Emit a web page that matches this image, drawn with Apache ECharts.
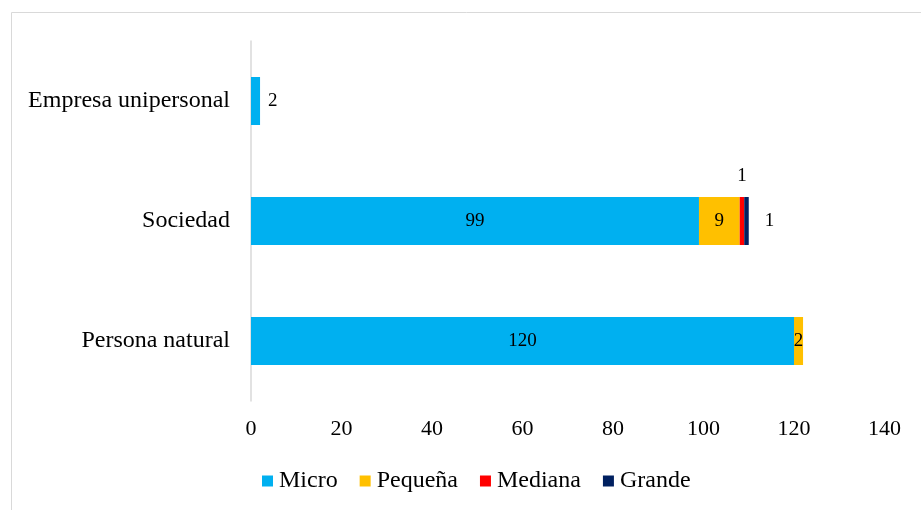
<!DOCTYPE html>
<html>
<head>
<meta charset="utf-8">
<script src="https://cdn.jsdelivr.net/npm/echarts@6/dist/echarts.min.js"></script>
<style>
  html, body { margin: 0; padding: 0; background: #fff; }
  #chart { width: 921px; height: 510px; }
</style>
</head>
<body>
<div id="chart"></div>
<script>
// Company types, bottom to top
const categories = ['Persona natural', 'Sociedad', 'Empresa unipersonal'];
const seriesNames = ['Micro', 'Pequeña', 'Mediana', 'Grande'];
const micro    = [120, 99, 2];
const pequena  = [2, 9, null];
const mediana  = [null, 1, null];
const grande   = [null, 1, null];
const xTicks   = [0, 20, 40, 60, 80, 100, 120, 140];
const colors   = ['#00B0F0', '#FFC000', '#FF0000', '#002060'];

const FONT = '"Liberation Serif", "Times New Roman", serif';

// Label placement per segment (the tiny segments get outside labels)
const labelPos = {
  Micro:   ['inside', 'inside', 'right'],
  'Pequeña': ['inside', 'inside', 'inside'],
  Mediana: ['top', 'top', 'top'],
  Grande:  ['right', 'right', 'right']
};

function buildData(name, values) {
  return values.map((v, i) => ({
    value: v,
    label: {
      position: labelPos[name][i],
      distance: name === 'Grande' ? 16 : (name === 'Mediana' ? 11 : 8)
    }
  }));
}

const allValues = [micro, pequena, mediana, grande];
const series = seriesNames.map((name, k) => ({
  name: name,
  type: 'bar',
  stack: 'total',
  barWidth: 48,
  itemStyle: { color: colors[k] },
  label: {
    show: true,
    color: '#000',
    fontFamily: FONT,
    fontSize: 19,
    formatter: p => (p.value == null ? '' : String(p.value))
  },
  data: buildData(name, allValues[k])
}));

const chart = echarts.init(document.getElementById('chart'));
chart.setOption({
  animation: false,
  textStyle: { fontFamily: FONT },
  graphic: [{
    type: 'rect',
    shape: { x: 11.5, y: 12.5, width: 1000, height: 1000 },
    style: { fill: 'none', stroke: '#d9d9d9', lineWidth: 1 },
    silent: true
  }],
  grid: { left: 251, right: 36.5, top: 41, bottom: 109 },
  legend: {
    top: 469,
    left: 262,
    padding: 0,
    itemWidth: 11,
    itemHeight: 11,
    itemGap: 22,
    icon: 'rect',
    textStyle: { fontFamily: FONT, fontSize: 24, color: '#000', padding: [0, 0, 0, 1] },
    data: seriesNames
  },
  xAxis: {
    type: 'value',
    min: xTicks[0],
    max: xTicks[xTicks.length - 1],
    interval: 20,
    axisLine: { show: false },
    axisTick: { show: false },
    splitLine: { show: false },
    axisLabel: { fontFamily: FONT, fontSize: 22, color: '#000', margin: 17 }
  },
  yAxis: {
    type: 'category',
    data: categories,
    axisLine: { show: true, lineStyle: { color: '#d9d9d9', width: 1.5 } },
    axisTick: { show: false },
    axisLabel: { fontFamily: FONT, fontSize: 24, color: '#000', margin: 21 }
  },
  series: series
});
</script>
</body>
</html>
